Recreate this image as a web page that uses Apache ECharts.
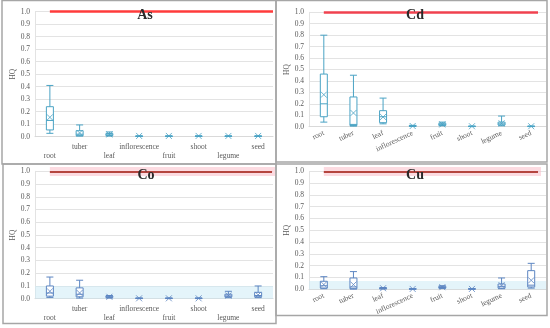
<!DOCTYPE html>
<html><head><meta charset="utf-8">
<script src="https://cdn.jsdelivr.net/npm/echarts@6/dist/echarts.min.js"></script>
<style>html,body{margin:0;padding:0;background:#fff}#c{width:550px;height:328px}</style>
</head><body><div id="c"></div>
<script>
// ---------- data ----------
const categories = ['root','tuber','leaf','inflorescence','fruit','shoot','legume','seed'];
const panelTitles = ['As','Cd','Co','Cu'];
const threshold = 1.0;
// [min, Q1, median, Q3, max]
const asBox = [[0.027,0.054,0.13,0.24,0.41],[0.005,0.008,0.02,0.048,0.094],[0.005,0.01,0.015,0.025,0.038],[0.002,0.003,0.004,0.005,0.006],[0.002,0.003,0.004,0.005,0.006],[0.002,0.003,0.004,0.005,0.006],[0.002,0.003,0.004,0.005,0.006],[0.002,0.003,0.004,0.005,0.006]];
const asMean = [0.155,0.03,0.018,0.006,0.006,0.006,0.006,0.006];
const cdBox = [[0.04,0.087,0.2,0.46,0.80],[0.005,0.01,0.02,0.26,0.45],[0.025,0.035,0.087,0.14,0.25],[0.002,0.004,0.006,0.009,0.012],[0.008,0.012,0.018,0.03,0.04],[0.001,0.002,0.003,0.004,0.005],[0.008,0.015,0.025,0.04,0.093],[0.001,0.002,0.003,0.004,0.005]];
const cdMean = [0.28,0.12,0.085,0.006,0.02,0.004,0.03,0.004];
const coBox = [[0.01,0.02,0.045,0.10,0.17],[0.005,0.015,0.035,0.085,0.145],[0.005,0.01,0.015,0.02,0.025],[0.001,0.002,0.003,0.004,0.005],[0.001,0.002,0.003,0.004,0.005],[0.001,0.002,0.003,0.004,0.005],[0.008,0.015,0.022,0.035,0.058],[0.008,0.015,0.025,0.05,0.10]];
const coMean = [0.058,0.045,0.015,0.003,0.003,0.003,0.025,0.03];
const cuBox = [[0.005,0.011,0.03,0.068,0.107],[0.002,0.005,0.02,0.096,0.15],[0.003,0.005,0.008,0.012,0.015],[0.001,0.002,0.003,0.004,0.005],[0.008,0.01,0.015,0.025,0.03],[0.001,0.002,0.003,0.004,0.005],[0.005,0.01,0.025,0.045,0.096],[0.01,0.02,0.035,0.158,0.22]];
const cuMean = [0.04,0.04,0.009,0.003,0.018,0.003,0.035,0.076];
const lowBand = [null,null,0.1,0.07];
const boxes = [asBox, cdBox, coBox, cuBox];
const means = [asMean, cdMean, coMean, cuMean];

// ---------- layout / style ----------
const panels = [
  {grid:{left:35,top:11.7,width:238,height:125}, stagger:true, border:[2,0.5,274,163.5], title:[145,8], lineEnd:273, red:'#ff3b3b', halo:false, box:'#4aa3c4'},
  {grid:{left:309,top:12.3,width:237,height:114.4}, stagger:false, border:[276,0.5,271,161.5], title:[415,8], lineEnd:538, red:'#f0424f', halo:false, box:'#4aa3c4'},
  {grid:{left:35,top:171.3,width:238,height:127.4}, stagger:true, border:[3,164,273,159.5], title:[146,168], lineEnd:272, red:'#b5453f', halo:true, box:'#5d86c2'},
  {grid:{left:309,top:171.3,width:237,height:118}, stagger:false, border:[276,164,271,151.5], title:[415,168], lineEnd:538, red:'#b5453f', halo:true, box:'#5d86c2'}
];
const serif = 'Liberation Serif, Times New Roman, serif';
const labelColor = '#595959';
const fs = 7.5;

const option = {
  animation:false,
  backgroundColor:'#fff',
  title: panels.map((p,i)=>({text:panelTitles[i], left:p.title[0], top:p.title[1], textAlign:'center', padding:0,
    textStyle:{fontFamily:serif, fontWeight:'bold', fontSize:14, color:'#2a2a2a'}})),
  grid: panels.map(p=>Object.assign({containLabel:false}, p.grid)),
  xAxis: panels.map((p,i)=>({type:'category', gridIndex:i, data:categories,
    axisLine:{show:true, lineStyle:{color:'#d9d9d9'}}, axisTick:{show:false},
    axisLabel: p.stagger ? {interval:0, fontFamily:serif, fontSize:fs, color:labelColor, margin:6, lineHeight:9,
        formatter:(v,idx)=> idx%2===0 ? '\n'+v : v}
      : {interval:0, rotate:25, fontFamily:serif, fontSize:fs, color:labelColor, margin:6}
  })),
  yAxis: panels.map((p,i)=>({type:'value', gridIndex:i, min:0, max:1, interval:0.1,
    name:'HQ', nameLocation:'middle', nameGap:14, nameRotate:90,
    nameTextStyle:{fontFamily:serif, fontSize:fs, color:labelColor},
    axisLine:{show:true, lineStyle:{color:'#e3e3e3'}}, axisTick:{show:false},
    axisLabel:{fontFamily:serif, fontSize:fs, color:labelColor, margin:5, formatter:v=>v.toFixed(1)},
    splitLine:{show:true, lineStyle:{color:'#e3e3e3', width:1}}
  })),
  series: [],
  graphic: panels.map(p=>({type:'rect', shape:{x:p.border[0], y:p.border[1], width:p.border[2], height:p.border[3]},
    style:{fill:'none', stroke:'#a6a6a6', lineWidth:1.5}, z:100}))
};

panels.forEach((p,i)=>{
  const lines = [];
  if (p.halo) lines.push([{xAxis:categories[0], yAxis:threshold, lineStyle:{color:'rgba(250,190,200,0.55)', width:9, type:'solid'}},
                          {x:p.lineEnd+3, yAxis:threshold}]);
  lines.push([{xAxis:categories[0], yAxis:threshold, lineStyle:{color:p.red, width:p.halo?2.2:2.5, type:'solid'}},
              {x:p.lineEnd, yAxis:threshold}]);
  const s = {type:'boxplot', xAxisIndex:i, yAxisIndex:i, data:boxes[i], boxWidth:[7,7],
    itemStyle:{color:'#fff', borderColor:p.box, borderWidth:1},
    markLine:{silent:true, symbol:['none','none'], label:{show:false}, data:lines, z:1}
  };
  if (lowBand[i] !== null) {
    s.markArea = {silent:true, itemStyle:{color:'rgba(205,235,245,0.55)'}, data:[[{yAxis:0},{yAxis:lowBand[i]}]]};
  }
  option.series.push(s);
  option.series.push({type:'scatter', xAxisIndex:i, yAxisIndex:i, data:means[i],
    symbol:'path://M0,0L10,10M10,0L0,10', symbolSize:6,
    itemStyle:{color:'none', borderColor:p.box, borderWidth:1}, z:5});
});

const chart = echarts.init(document.getElementById('c'), null, {renderer:'canvas'});
chart.setOption(option);
</script></body></html>
